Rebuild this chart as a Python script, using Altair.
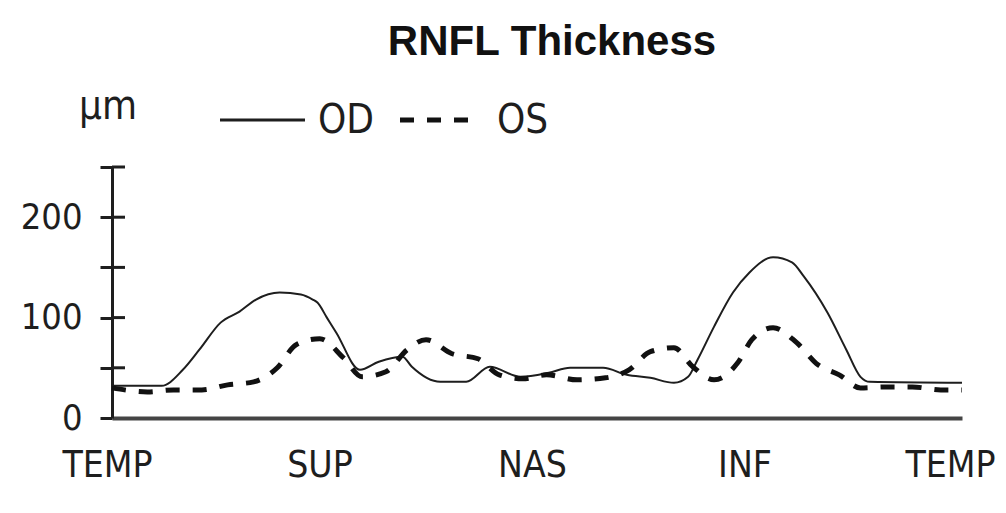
import json
import pandas as pd
import altair as alt

# ---- data ----
title_text = "RNFL Thickness"
unit_text = "µm"
series_names = ["OD", "OS"]
x_labels = ["TEMP", "SUP", "NAS", "INF", "TEMP"]
x_label_pos = [0, 90, 180, 270, 360]
y_tick_vals = [0, 50, 100, 150, 200, 250]

od_deg = [0, 21, 30, 37, 46, 54, 61, 71, 80, 85, 87, 91, 95, 105, 113, 123, 127, 139, 150, 160,
          173, 185, 194, 208, 218, 228, 238, 244, 248, 255, 263, 270, 280, 288, 293, 303, 311, 317, 321, 360]
od_um = [32, 32, 48, 68, 95, 106, 118, 125, 123, 118, 115, 100, 85, 48, 56, 61, 51, 36, 36, 51,
         41, 45, 50, 50, 43, 40, 35, 41, 58, 91, 125, 145, 160, 155, 141, 105, 68, 41, 36, 35]

os_deg = [0, 15, 26, 38, 49, 60, 70, 78, 88, 98, 106, 116, 125, 133, 144, 155, 164, 174, 184, 197,
          209, 219, 228, 238, 246, 255, 265, 271, 280, 290, 299, 308, 317, 328, 339, 351, 360]
os_um = [30, 26, 28, 28, 33, 36, 50, 73, 79, 60, 41, 46, 68, 78, 64, 59, 43, 39, 43, 38,
         40, 48, 66, 70, 51, 38, 55, 78, 90, 75, 53, 43, 30, 31, 31, 28, 28]

W, H = 850, 251
FONT = "'Liberation Sans Narrow', 'DejaVu Sans Condensed', 'Arial Narrow', sans-serif"
TFONT = "'Liberation Sans', Arial, sans-serif"
INK = "#1e1e1e"

od_df = pd.DataFrame({"deg": od_deg, "um": od_um})
os_df = pd.DataFrame({"deg": os_deg, "um": os_um})
one = pd.DataFrame({"a": [0]})

x_scale = alt.Scale(domain=[0, 360], nice=False, zero=False)
y_scale = alt.Scale(domain=[0, 250], nice=False)

label_expr = f"{json.dumps(x_labels)}[round(datum.value / 90)]"

x_axis = alt.Axis(values=x_label_pos, labelExpr=label_expr, ticks=False, tickSize=0, grid=False,
                  domainColor="#444", domainWidth=4, labelFont=FONT, labelFontSize=37,
                  labelColor=INK, labelPadding=29, labelFlush=False,
                  labelOffset={"condition": {"test": "datum.value == 360", "value": -12}, "value": -5},
                  title=None)
y_axis = alt.Axis(values=y_tick_vals, labelExpr="datum.value % 100 == 0 ? datum.label : ''",
                  tickSize=12, tickWidth=3, tickColor=INK, domainColor=INK, domainWidth=3,
                  grid=False, labelFont=FONT, labelFontSize=36, labelColor=INK, labelPadding=18,
                  title=None)

od_line = alt.Chart(od_df).mark_line(interpolate="monotone", color=INK, strokeWidth=2).encode(
    x=alt.X("deg:Q", scale=x_scale, axis=x_axis),
    y=alt.Y("um:Q", scale=y_scale, axis=y_axis),
)
os_line = alt.Chart(os_df).mark_line(interpolate="monotone", color="#111", strokeWidth=5,
                                     strokeDash=[14, 13]).encode(
    x=alt.X("deg:Q", scale=x_scale),
    y=alt.Y("um:Q", scale=y_scale),
)

inner_ticks = alt.Chart(pd.DataFrame({"um": y_tick_vals[1:]})).mark_rule(color=INK, strokeWidth=3).encode(
    x=alt.value(0), x2=alt.value(13), y=alt.Y("um:Q", scale=y_scale)
)

title = alt.Chart(one).mark_text(text=title_text, font=TFONT, fontSize=42, fontWeight="bold",
                                 color="#111", align="center", baseline="alphabetic").encode(
    x=alt.value(440), y=alt.value(-112))
unit = alt.Chart(one).mark_text(text=unit_text, font=FONT, fontSize=40, color=INK,
                                align="center", baseline="alphabetic").encode(
    x=alt.value(-4), y=alt.value(-48))
leg_od_line = alt.Chart(one).mark_rule(color=INK, strokeWidth=3).encode(
    x=alt.value(108), x2=alt.value(193), y=alt.value(-47))
leg_od_text = alt.Chart(one).mark_text(text=series_names[0], font=FONT, fontSize=40, color=INK,
                                       align="left", baseline="alphabetic").encode(
    x=alt.value(206), y=alt.value(-34))
leg_os_line = alt.Chart(one).mark_rule(color="#111", strokeWidth=5, strokeDash=[14, 13]).encode(
    x=alt.value(288), x2=alt.value(357), y=alt.value(-47))
leg_os_text = alt.Chart(one).mark_text(text=series_names[1], font=FONT, fontSize=40, color=INK,
                                       align="left", baseline="alphabetic").encode(
    x=alt.value(385), y=alt.value(-34))

chart = alt.layer(
    od_line, os_line, inner_ticks, title, unit, leg_od_line, leg_od_text, leg_os_line, leg_os_text
).properties(
    width=W, height=H,
    padding={"left": 104, "top": 159, "right": 36, "bottom": 90},
    autosize=alt.AutoSizeParams(type="none"),
    background="white",
).configure_view(stroke=None)

chart.save("out.html", embed_options={"renderer": "svg", "actions": False})
